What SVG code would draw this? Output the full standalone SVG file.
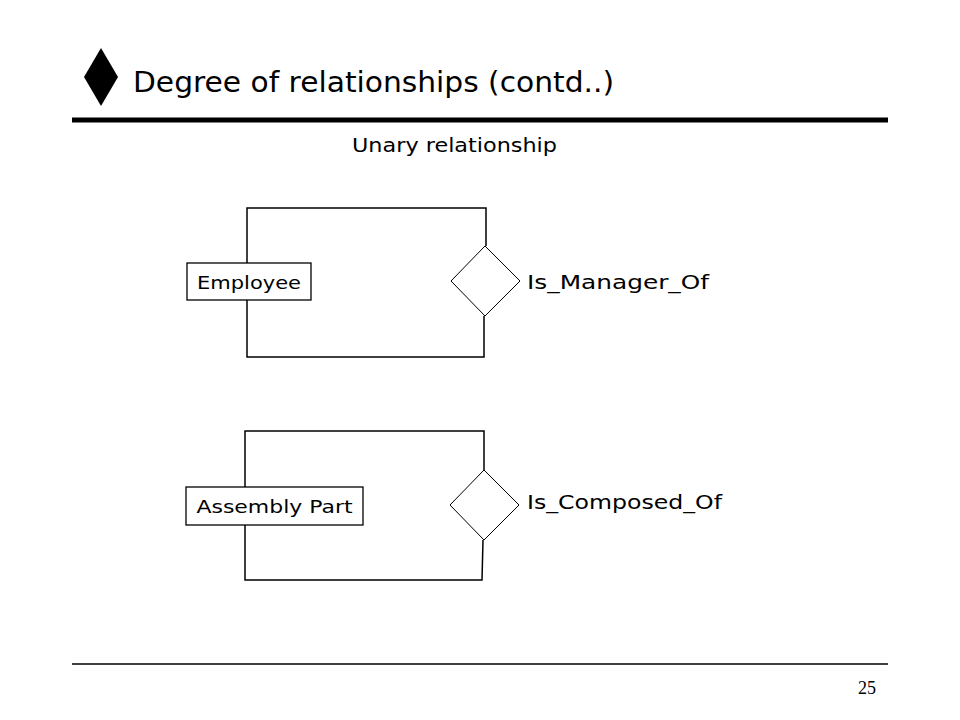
<svg xmlns="http://www.w3.org/2000/svg" width="960" height="720" viewBox="0 0 960 720">
<style>
  .t { font-family: "DejaVu Sans", "Liberation Sans", sans-serif; fill: #000; }
  .ln { stroke: #000; stroke-width: 1.5; fill: none; }
  .ent { fill: #fff; stroke: #000; stroke-width: 1.3; }
  .rel { fill: #fff; stroke: #000; stroke-width: 1; }
</style>
<rect width="960" height="720" fill="#fff"/>
<g id="title">
  <polygon points="101,48 118,77 101,106 84,77" fill="#000"/>
  <text class="t" x="133" y="92" font-size="29" textLength="481" lengthAdjust="spacingAndGlyphs">Degree of relationships (contd..)</text>
  <line x1="72" y1="120" x2="888" y2="120" stroke="#000" stroke-width="5"/>
  <text class="t" x="352" y="152" font-size="19" textLength="205" lengthAdjust="spacingAndGlyphs">Unary relationship</text>
</g>
<g id="connectors">
  <polyline class="ln" points="247,263 247,208 486,208 486,246"/>
  <polyline class="ln" points="247,300 247,357 484,357 484,316"/>
  <polyline class="ln" points="245,487 245,431 484,431 484,470"/>
  <polyline class="ln" points="245,525 245,580 482,580 483,540"/>
</g>
<g id="employee">
  <rect class="ent" x="187" y="263" width="124" height="37"/>
  <text class="t" x="249" y="289" font-size="18" text-anchor="middle" textLength="104" lengthAdjust="spacingAndGlyphs">Employee</text>
</g>
<g id="is_manager_of">
  <polygon class="rel" points="485,246 520,281 485,316 451,281"/>
  <text class="t" x="527" y="289" font-size="19" textLength="182" lengthAdjust="spacingAndGlyphs">Is_Manager_Of</text>
</g>
<g id="assembly_part">
  <rect class="ent" x="186" y="487" width="177" height="38"/>
  <text class="t" x="274.5" y="513" font-size="18" text-anchor="middle" textLength="156" lengthAdjust="spacingAndGlyphs">Assembly Part</text>
</g>
<g id="is_composed_of">
  <polygon class="rel" points="484,470 519,505 484,540 450,505"/>
  <text class="t" x="527" y="509" font-size="19" textLength="195" lengthAdjust="spacingAndGlyphs">Is_Composed_Of</text>
</g>
<g id="footer">
  <line x1="72" y1="664" x2="888" y2="664" stroke="#000" stroke-width="1.3"/>
  <text x="876" y="694" font-family="Liberation Serif, serif" font-size="18" text-anchor="end">25</text>
</g>
</svg>
